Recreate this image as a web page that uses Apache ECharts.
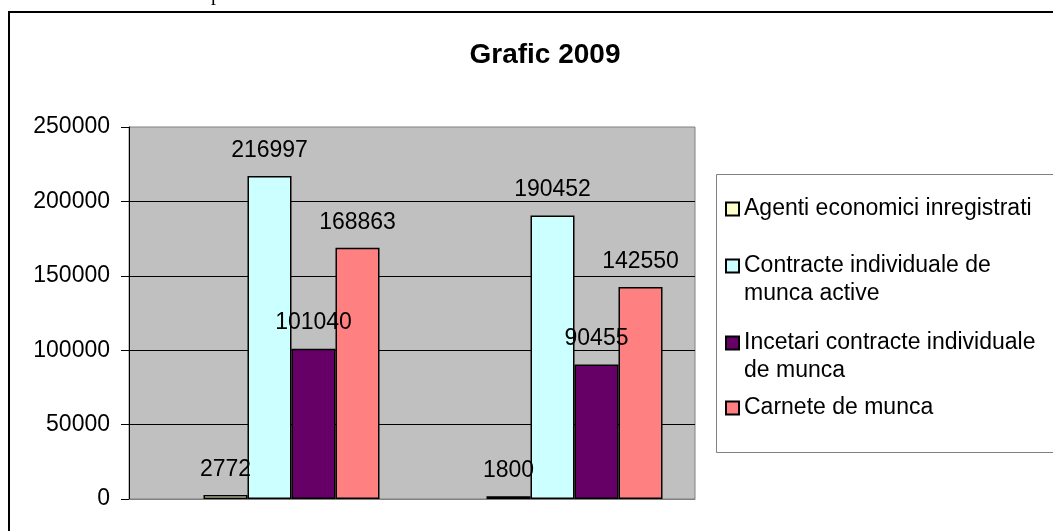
<!DOCTYPE html>
<html>
<head>
<meta charset="utf-8">
<script src="https://cdn.jsdelivr.net/npm/echarts@6/dist/echarts.min.js"></script>
<style>
  html, body { margin: 0; padding: 0; background: #fff; }
  #chart { width: 1053px; height: 531px; }
</style>
</head>
<body>
<div id="chart"></div>
<script>
const categories = ['A', 'B']
const seriesNames = [
  'Agenti economici inregistrati',
  'Contracte individuale de munca active',
  'Incetari contracte individuale de munca',
  'Carnete de munca'
]
const legendLabels = [
  'Agenti economici inregistrati',
  'Contracte individuale de\nmunca active',
  'Incetari contracte individuale\nde munca',
  'Carnete de munca'
]
const agenti = [2772, 1800]
const contracteActive = [216997, 190452]
const incetari = [101040, 90455]
const carnete = [168863, 142550]
const yTicks = { min: 0, max: 250000, interval: 50000 }

const colors = ['#FFFFCC', '#CCFFFF', '#660066', '#FF8080']
const values = [agenti, contracteActive, incetari, carnete]
const font = "'Liberation Sans', Arial, sans-serif"

const chart = echarts.init(document.getElementById('chart'))

const legendTops = [195, 252, 329, 394]
const lineH = 28

// icon square sits at the top, so it lines up with the first text line
const tallIcon = 'path://M0,0H13V13H0Z M0,' + (13 + lineH)

const option = {
  animation: false,
  title: {
    text: 'Grafic 2009',
    left: 540,
    top: 36,
    textAlign: 'center',
    textStyle: { fontFamily: font, fontSize: 28, fontWeight: 'bold', color: '#000' }
  },
  graphic: [
    {
      type: 'rect',
      shape: { x: 9, y: 12, width: 1200, height: 700 },
      style: { fill: 'none', stroke: '#000', lineWidth: 2 },
      z: -10
    },
    {
      type: 'rect',
      shape: { x: 716.5, y: 174.5, width: 500, height: 278 },
      style: { fill: '#fff', stroke: '#808080', lineWidth: 1 },
      z: -5
    },
    {
      type: 'text',
      x: 211,
      y: -15,
      style: { text: 'p', font: '20px "Liberation Serif", serif', fill: '#000' }
    }
  ],
  legend: seriesNames.map((name, i) => {
    const twoLines = legendLabels[i].indexOf('\n') >= 0
    return {
      data: [{ name: name, icon: twoLines ? tallIcon : 'rect' }],
      left: 725,
      top: legendTops[i],
      padding: 0,
      orient: 'vertical',
      itemWidth: 13,
      itemHeight: twoLines ? 13 + lineH : 13,
      selectedMode: false,
      formatter: () => legendLabels[i],
      textStyle: {
        fontFamily: font,
        fontSize: 23,
        color: '#000',
        lineHeight: lineH
      }
    }
  }),
  grid: [
    {
      left: 129, right: 358, top: 127, bottom: 32,
      show: true, backgroundColor: '#C0C0C0', borderColor: '#808080', borderWidth: 1
    },
    {
      left: 150, right: 337, top: 127, bottom: 32
    }
  ],
  xAxis: [
    {
      type: 'category', gridIndex: 0, data: categories,
      axisLine: { lineStyle: { color: '#808080', width: 1 } },
      axisTick: { show: false },
      axisLabel: { show: false }
    },
    {
      type: 'category', gridIndex: 1, data: categories,
      axisLine: { show: false }, axisTick: { show: false }, axisLabel: { show: false }
    }
  ],
  yAxis: [
    {
      type: 'value', gridIndex: 0,
      min: yTicks.min, max: yTicks.max, interval: yTicks.interval,
      axisLine: { show: true, lineStyle: { color: '#000', width: 1 } },
      axisTick: { show: true, length: 8, lineStyle: { color: '#000' } },
      axisLabel: {
        fontFamily: font, fontSize: 23, color: '#000', margin: 19,
        formatter: v => String(v)
      },
      splitLine: { show: true, showMinLine: false, showMaxLine: false, lineStyle: { color: '#000', width: 1 } }
    },
    {
      type: 'value', gridIndex: 1,
      min: yTicks.min, max: yTicks.max, interval: yTicks.interval,
      axisLine: { show: false }, axisTick: { show: false }, axisLabel: { show: false },
      splitLine: { show: false }
    }
  ],
  series: seriesNames.map((name, i) => ({
    name: name,
    type: 'bar',
    xAxisIndex: 1,
    yAxisIndex: 1,
    data: values[i],
    barWidth: 44,
    barGap: '0%',
    itemStyle: { color: colors[i], borderColor: '#000', borderWidth: 1.5 },
    label: {
      show: true,
      position: 'top',
      distance: 14,
      fontFamily: font,
      fontSize: 23,
      color: '#000'
    }
  }))
}

chart.setOption(option)
</script>
</body>
</html>
